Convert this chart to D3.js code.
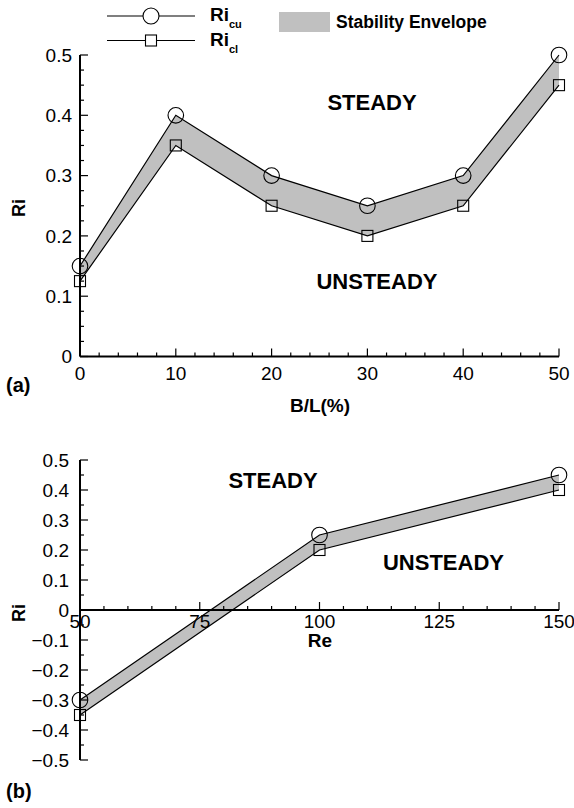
<!DOCTYPE html>
<html><head><meta charset="utf-8">
<script src="https://cdn.jsdelivr.net/npm/d3@7/dist/d3.min.js"></script>
<style>
body{margin:0;background:#fff;}
svg{display:block;font-family:"Liberation Sans",Arial,Helvetica,sans-serif;}
</style></head><body>
<svg id="c" width="574" height="808"></svg>
<script>
// Panel (a)
const blValues = [0, 10, 20, 30, 40, 50];
const riCuA = [0.15, 0.4, 0.3, 0.25, 0.3, 0.5];
const riClA = [0.125, 0.35, 0.25, 0.2, 0.25, 0.45];
const xTicksA = [0, 10, 20, 30, 40, 50];
const yTicksA = [0, 0.1, 0.2, 0.3, 0.4, 0.5];
// Panel (b)
const reValues = [50, 100, 150];
const riCuB = [-0.3, 0.25, 0.45];
const riClB = [-0.35, 0.2, 0.4];
const xTicksB = [50, 75, 100, 125, 150];
const yTicksB = [-0.5, -0.4, -0.3, -0.2, -0.1, 0, 0.1, 0.2, 0.3, 0.4, 0.5];

const svg = d3.select("#c");
const FILL = "#c0c0c0";

function panel(o) {
  const g = svg.append("g");
  const x = d3.scaleLinear().domain(o.xd).range([80, 559]);
  const y = d3.scaleLinear().domain(o.yd).range(o.yr);
  const pts = o.xs.map((v, i) => ({x: v, u: o.cu[i], l: o.cl[i]}));
  // envelope
  const area = d3.area().x(d => x(d.x)).y0(d => y(d.l)).y1(d => y(d.u));
  g.append("path").datum(pts).attr("d", area).attr("fill", FILL);
  const axisY = o.axisY(y);
  g.append("line").attr("x1", 80).attr("x2", 559).attr("y1", axisY).attr("y2", axisY)
    .attr("stroke", "#000").attr("stroke-width", 2);
  g.append("line").attr("x1", 80).attr("x2", 80).attr("y1", y(o.yd[0])).attr("y2", y(o.yd[1]))
    .attr("stroke", "#000").attr("stroke-width", 2);
  // x ticks
  const xMinor = d3.range(o.xd[0], o.xd[1] + 1e-9, o.xMinorStep);
  g.selectAll(null).data(xMinor).join("line")
    .attr("x1", d => x(d)).attr("x2", d => x(d))
    .attr("y1", axisY).attr("y2", d => axisY - (o.xt.includes(d) ? 8 : 4))
    .attr("stroke", "#000").attr("stroke-width", 1.2);
  g.selectAll(null).data(o.xt).join("text")
    .attr("x", d => x(d)).attr("y", axisY + o.xLabelDy)
    .attr("text-anchor", "middle").attr("font-size", 19).text(d => d);
  // y ticks
  const yMinor = d3.range(0, Math.round((o.yd[1] - o.yd[0]) / o.yMinorStep) + 1)
    .map(i => o.yd[0] + i * o.yMinorStep);
  g.selectAll(null).data(yMinor).join("line")
    .attr("x1", 80).attr("x2", d => 80 + (o.yt.some(t => Math.abs(t - d) < 1e-9) ? 8 : 4))
    .attr("y1", d => y(d)).attr("y2", d => y(d))
    .attr("stroke", "#000").attr("stroke-width", 1.2);
  g.selectAll(null).data(o.yt).join("text")
    .attr("x", o.yLabelX).attr("y", d => y(d)).attr("dy", "0.35em")
    .attr("text-anchor", "end").attr("font-size", 19).text(d => d3.format("")(+d.toFixed(1)));
  // lines
  const lu = d3.line().x(d => x(d.x)).y(d => y(d.u));
  const ll = d3.line().x(d => x(d.x)).y(d => y(d.l));
  g.append("path").datum(pts).attr("d", lu).attr("fill", "none").attr("stroke", "#000").attr("stroke-width", 1.2);
  g.append("path").datum(pts).attr("d", ll).attr("fill", "none").attr("stroke", "#000").attr("stroke-width", 1.2);
  g.selectAll(null).data(pts).join("circle")
    .attr("cx", d => x(d.x)).attr("cy", d => y(d.u)).attr("r", 7.8)
    .attr("fill", "none").attr("stroke", "#000").attr("stroke-width", 1.1);
  g.selectAll(null).data(pts).join("rect")
    .attr("x", d => x(d.x) - 5.5).attr("y", d => y(d.l) - 5.5).attr("width", 11).attr("height", 11)
    .attr("fill", "none").attr("stroke", "#000").attr("stroke-width", 1.1);
  // texts
  o.texts.forEach(t => g.append("text").attr("x", t[1]).attr("y", t[2])
    .attr("text-anchor", t[3] || "middle").attr("font-weight", "bold")
    .attr("font-size", t[4]).text(t[0]));
  g.append("text").attr("transform", `translate(25,${o.riY}) rotate(-90)`)
    .attr("text-anchor", "middle").attr("font-weight", "bold").attr("font-size", 18).text("Ri");
  return g;
}

panel({
  xs: blValues, cu: riCuA, cl: riClA, xd: [0, 50], yd: [0, 0.5], yr: [356.5, 55],
  xt: xTicksA, yt: yTicksA, xMinorStep: 2, yMinorStep: 0.025, yLabelX: 72,
  axisY: y => y(0), xLabelDy: 23, riY: 208,
  texts: [["STEADY", 372, 110, "middle", 22], ["UNSTEADY", 377, 289, "middle", 22],
          ["B/L(%)", 320, 412, "middle", 19], ["(a)", 6, 392, "start", 20]]
});
panel({
  xs: reValues, cu: riCuB, cl: riClB, xd: [50, 150], yd: [-0.5, 0.5], yr: [760, 460],
  xt: xTicksB, yt: yTicksB, xMinorStep: 5, yMinorStep: 0.05, yLabelX: 69,
  axisY: y => y(0), xLabelDy: 18, riY: 613,
  texts: [["STEADY", 273, 488, "middle", 22], ["UNSTEADY", 443.5, 570, "middle", 22],
          ["Re", 320, 647, "middle", 19], ["(b)", 6, 798, "start", 20]]
});

// Legend
const lg = svg.append("g");
const legendSeries = [{sub: "cu", y: 16, mark: "circle"}, {sub: "cl", y: 40.5, mark: "square"}];
legendSeries.forEach(s => {
  lg.append("line").attr("x1", 107).attr("x2", 195).attr("y1", s.y).attr("y2", s.y)
    .attr("stroke", "#000").attr("stroke-width", 1.2);
  if (s.mark === "circle") lg.append("circle").attr("cx", 151).attr("cy", s.y).attr("r", 8)
    .attr("fill", "#fff").attr("stroke", "#000").attr("stroke-width", 1.1);
  else lg.append("rect").attr("x", 145.5).attr("y", s.y - 5.5).attr("width", 11).attr("height", 11)
    .attr("fill", "#fff").attr("stroke", "#000").attr("stroke-width", 1.1);
  const t = lg.append("text").attr("x", 210).attr("y", s.y + 5).attr("font-weight", "bold").attr("font-size", 19);
  t.append("tspan").text("Ri");
  t.append("tspan").attr("font-size", 11).attr("dy", 7).text(s.sub);
});
lg.append("rect").attr("x", 279).attr("y", 12).attr("width", 51).attr("height", 20).attr("fill", FILL);
lg.append("text").attr("x", 336).attr("y", 28).attr("font-weight", "bold").attr("font-size", 17.5).text("Stability Envelope");
</script>
</body></html>
